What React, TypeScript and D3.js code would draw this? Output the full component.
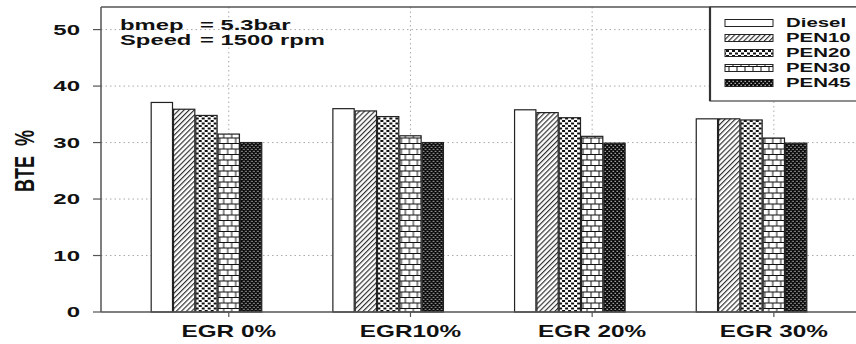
import React from 'react';
import * as d3 from 'd3';

// groups on the x axis
const categories = ['EGR 0%', 'EGR10%', 'EGR 20%', 'EGR 30%'];
const seriesNames = ['Diesel', 'PEN10', 'PEN20', 'PEN30', 'PEN45'];

// BTE %
const diesel = [37.1, 36.0, 35.8, 34.2];
const pen10 = [35.9, 35.6, 35.3, 34.2];
const pen20 = [34.8, 34.6, 34.4, 34.0];
const pen30 = [31.5, 31.2, 31.1, 30.8];
const pen45 = [30.0, 30.0, 29.9, 29.9];

const yTicks = [0, 10, 20, 30, 40, 50];
const noteLines = [['bmep', '= 5.3bar'], ['Speed', '= 1500 rpm']];

const W = 856, H = 344;
const margin = { top: 7, right: -1, bottom: 32, left: 101 };
const FONT = 'Arial, "Liberation Sans", Helvetica, sans-serif';
const INK = '#111';

const fills = ['#fff', 'url(#pHatch)', 'url(#pDots)', 'url(#pBrick)', 'url(#pDark)'];

function App() {
  const values = [diesel, pen10, pen20, pen30, pen45];

  const x = d3.scaleBand()
    .domain(categories)
    .range([margin.left, W - margin.right])
    .paddingInner(0.386)
    .paddingOuter(0.2735);

  const xSub = d3.scaleBand()
    .domain(seriesNames)
    .range([0, x.bandwidth()])
    .padding(0);

  const y = d3.scaleLinear()
    .domain([0, 54])
    .range([H - margin.bottom, margin.top]);

  const x0 = margin.left, x1 = W - margin.right;
  const yBase = y(0);
  // the axis tick sits under the 4th bar of each group
  const tickX = (c: string) => x(c)! + xSub('PEN30')! + xSub.bandwidth() / 2;

  const legend = { x: 710, y: margin.top, w: 150, h: 94 };

  return (
    <svg width={W} height={H} style={{ position: 'absolute', left: 0, top: 0, background: '#fff' }}
      fontFamily={FONT} fontWeight="bold">
      <defs>
        <pattern id="pHatch" width="3.6" height="3.6" patternUnits="userSpaceOnUse" patternTransform="rotate(45)">
          <rect width="3.6" height="3.6" fill="#fff" />
          <line x1="0.6" y1="0" x2="0.6" y2="3.6" stroke="#222" strokeWidth="1.1" />
        </pattern>
        <pattern id="pDots" width="6" height="5" patternUnits="userSpaceOnUse">
          <rect width="6" height="5" fill="#fff" />
          <rect x="0" y="0" width="3" height="2" fill="#111" />
          <rect x="3" y="2.5" width="3" height="2" fill="#111" />
        </pattern>
        <pattern id="pBrick" width="8" height="11" patternUnits="userSpaceOnUse">
          <rect width="8" height="11" fill="#fff" />
          <line x1="0" y1="0.5" x2="8" y2="0.5" stroke="#111" strokeWidth="1" />
          <line x1="0" y1="6" x2="8" y2="6" stroke="#111" strokeWidth="1" />
          <line x1="1" y1="0.5" x2="1" y2="6" stroke="#111" strokeWidth="1" />
          <line x1="5" y1="6" x2="5" y2="11" stroke="#111" strokeWidth="1" />
        </pattern>
        <pattern id="pDark" width="4" height="4" patternUnits="userSpaceOnUse">
          <rect width="4" height="4" fill="#0a0a0a" />
          <rect x="0.5" y="0.8" width="1.4" height="1" fill="#ddd" />
          <rect x="2.5" y="2.8" width="1.4" height="1" fill="#ddd" />
        </pattern>
      </defs>

      {/* grid */}
      <g stroke="#aaa" strokeWidth="1" strokeDasharray="1.5,3">
        {yTicks.filter(t => t > 0).map(t => (
          <line key={t} x1={x0} x2={x1} y1={y(t)} y2={y(t)} />
        ))}
        {categories.map(c => (
          <line key={c} x1={tickX(c)} x2={tickX(c)} y1={margin.top} y2={yBase} />
        ))}
      </g>

      {/* bars */}
      {categories.map((c, ci) => (
        <g key={c} transform={`translate(${x(c)},0)`}>
          {seriesNames.map((s, si) => (
            <rect key={s}
              x={xSub(s)! + 0.5}
              y={y(values[si][ci])}
              width={xSub.bandwidth() - 1}
              height={yBase - y(values[si][ci])}
              fill={fills[si]}
              stroke="#222"
              strokeWidth="1.2" />
          ))}
        </g>
      ))}

      {/* frame */}
      <line x1={x0} x2={x1} y1={margin.top} y2={margin.top} stroke="#555" strokeWidth="1.5" />
      <line x1={x0} x2={x0} y1={margin.top} y2={yBase} stroke="#555" strokeWidth="1.5" />
      <line x1={x0} x2={x1} y1={yBase} y2={yBase} stroke="#555" strokeWidth="1.5" />

      {/* y axis */}
      {yTicks.map(t => (
        <g key={t}>
          <line x1={x0 - 8} x2={x0} y1={y(t)} y2={y(t)} stroke="#555" strokeWidth="1.2" />
          <text transform={`translate(80,${y(t)}) scale(1.6,1)`} textAnchor="end" dy="0.36em"
            fontSize="15" fill={INK}>{t}</text>
        </g>
      ))}
      <text transform={`translate(24,161) scale(1.55,1) rotate(-90)`} textAnchor="middle" dy="0.36em"
        fontSize="18" fill={INK} style={{ whiteSpace: 'pre' }}>{'BTE  %'}</text>

      {/* x axis */}
      {categories.map(c => (
        <g key={c}>
          <line x1={tickX(c)} x2={tickX(c)} y1={yBase} y2={yBase + 5} stroke="#555" strokeWidth="1.2" />
          <text transform={`translate(${tickX(c)},337) scale(1.52,1)`} textAnchor="middle"
            fontSize="16" fill={INK}>{c}</text>
        </g>
      ))}

      {/* operating point note */}
      {noteLines.map((ln, i) => (
        <g key={i} fill={INK} fontSize="14">
          <text transform={`translate(120,${30 + i * 15}) scale(1.7,1)`}>{ln[0]}</text>
          <text transform={`translate(200,${30 + i * 15}) scale(1.7,1)`}>{ln[1]}</text>
        </g>
      ))}

      {/* legend */}
      <g>
        <rect x={legend.x} y={legend.y} width={legend.w} height={legend.h} fill="#fff" stroke="#444" strokeWidth="1.2" />
        <line x1={legend.x} x2={legend.x} y1={legend.y} y2={legend.y + legend.h} stroke="#333" strokeWidth="2.2" />
        {seriesNames.map((s, i) => {
          const cy = 23 + i * 15;
          return (
            <g key={s}>
              <rect x={725} y={cy - 3.5} width={48} height={7} fill={fills[i]} stroke="#222" strokeWidth="1" />
              <text transform={`translate(786,${cy}) scale(1.7,1)`} dy="0.36em" fontSize="12" fill={INK}>{s}</text>
            </g>
          );
        })}
      </g>
    </svg>
  );
}

export default App;
